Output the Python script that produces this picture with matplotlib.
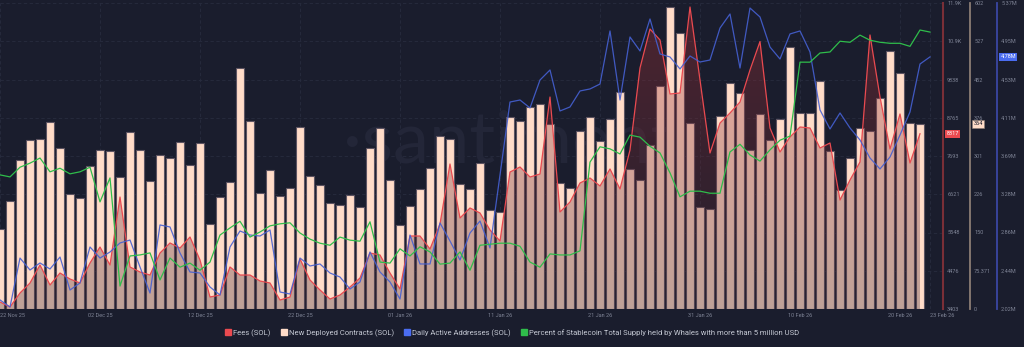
import numpy as np
import pandas as pd
import matplotlib
matplotlib.use('Agg')
import matplotlib.pyplot as plt
from matplotlib.lines import Line2D

plt.rcParams['font.family'] = ['Roboto', 'DejaVu Sans']

# ---------------- data ----------------
dates = pd.date_range('2025-11-22', '2026-02-23', freq='D')  # 94 days

contracts = [157, 213, 293, 332, 334, 367, 316, 226, 219, 281,
             312, 311, 259, 349, 312, 252, 302, 297, 328, 283,
             326, 167, 220, 250, 475, 370, 228, 273, 222, 238,
             358, 261, 243, 208, 204, 224, 201, 317, 356, 254,
             165, 203, 237, 277, 340, 335, 245, 237, 287, 195,
             191, 377, 369, 397, 403, 363, 247, 239, 350, 377,
             331, 374, 426, 275, 253, 323, 439, 595, 542, 365,
             201, 197, 379, 444, 424, 313, 384, 332, 374, 516,
             385, 386, 449, 311, 234, 297, 356, 350, 415, 507,
             464, 365, 364]

fees = [3599, 3459, 3852, 4132, 4637, 4076, 4412, 4244, 4132, 4693,
        5141, 4637, 6543, 4581, 4440, 4356, 4973, 5254, 5113, 5422,
        4777, 3739, 3796, 4581, 4356, 4356, 4188, 4132, 3655, 3739,
        4805, 4216, 3936, 3683, 3796, 4020, 4272, 4973, 4917, 4412,
        3964, 5450, 5450, 5085, 5786, 7469, 5955, 6235, 6095, 5618,
        5310, 7244, 7385, 7104, 7188, 9347, 6123, 6403, 6936, 7076,
        6852, 7329, 6768, 7861, 10161, 11254, 10946, 9432, 9460, 11871,
        9824, 7777, 8618, 8899, 9207, 10105, 10902, 8478, 7805, 8226,
        8506, 8478, 7917, 8058, 6459, 7020, 7525, 11086, 9347, 7889,
        8871, 7497, 8317]

active_m = [2.119, 2.042, 2.578, 2.447, 2.524, 2.458, 2.589, 2.228, 2.305, 2.699,
            2.578, 2.644, 2.743, 2.775, 2.480, 2.195, 2.940, 2.918, 2.633, 2.425,
            2.414, 2.261, 2.173, 2.699, 2.874, 2.830, 2.819, 2.885, 2.206, 2.184,
            2.578, 2.491, 2.513, 2.414, 2.370, 2.239, 2.316, 2.644, 2.425, 2.316,
            2.129, 2.830, 2.513, 2.513, 2.962, 2.764, 2.556, 2.852, 2.983, 2.688,
            3.487, 4.286, 4.308, 4.221, 4.527, 4.637, 4.188, 4.232, 4.407, 4.429,
            4.483, 5.064, 4.308, 4.998, 4.845, 5.195, 4.812, 4.779, 4.648, 4.790,
            4.724, 4.746, 5.096, 5.250, 4.658, 5.315, 5.217, 4.888, 4.757, 5.031,
            5.064, 4.834, 4.199, 3.991, 4.166, 4.002, 3.870, 3.673, 3.553, 3.684,
            3.925, 4.177, 4.702, 4.780]

whale_pct = [62.63, 62.59, 62.78, 62.86, 62.96, 62.69, 62.76, 62.65, 62.69, 62.78,
             62.10, 62.57, 60.45, 61.04, 61.06, 61.10, 60.57, 61.00, 60.82, 60.90,
             60.76, 60.92, 61.45, 61.59, 61.72, 61.41, 61.51, 61.63, 61.67, 61.69,
             61.49, 61.37, 61.29, 61.25, 61.41, 61.35, 61.33, 61.71, 60.92, 60.90,
             61.18, 61.04, 61.22, 61.12, 60.88, 60.90, 61.12, 60.76, 61.25, 61.27,
             61.29, 61.29, 61.23, 60.92, 60.82, 61.08, 61.06, 61.06, 61.14, 62.88,
             63.18, 63.14, 63.04, 63.41, 63.37, 63.19, 63.06, 62.67, 62.20, 62.31,
             62.31, 62.27, 62.27, 63.08, 63.23, 63.02, 62.90, 63.12, 63.31, 63.39,
             64.84, 64.84, 65.02, 65.04, 65.25, 65.23, 65.37, 65.27, 65.23, 65.21,
             65.21, 65.15, 65.47, 65.43]

date_tick_idx = [0, 10, 20, 30, 40, 50, 60, 70, 80, 90, 93]
fee_tick_labels = ['3403', '4476', '5548', '6621', '7693', '8765', '9838', '10.9K', '11.9K']
contract_tick_labels = ['0', '75.371', '150', '226', '301', '376', '452', '527', '602']
active_tick_labels = ['2.02M', '2.44M', '2.86M', '3.28M', '3.69M', '4.11M', '4.53M', '4.95M', '5.37M']

fee_lim = (3403, 11983)
contract_lim = (0, 602)
active_lim = (2.02, 5.37)
whale_lim = (60, 66)

# ---------------- style ----------------
BG = '#1a1d2d'
GRID = '#282c3e'
TICK = '#7f8496'
C_FEE = '#ea4a50'
C_BAR = '#ffdcc8'
C_BLUE = '#4560d2'
C_GREEN = '#2fbd4b'

fig = plt.figure(figsize=(10.24, 3.47), dpi=100, facecolor=BG)
W, H = 1024.0, 347.0
ax = fig.add_axes([0, 38 / H, 943 / W, 306 / H])
ax.set_facecolor(BG)

x = np.arange(len(dates))
xb = x[:len(contracts)]
xf = x[:len(fees)]
XMAX = 94.3

# bars
ax.bar(xb, contracts, width=0.74, color=C_BAR, edgecolor='#5d5462', linewidth=0.8, zorder=2)
ax.set_xlim(0, XMAX)
ax.set_ylim(*contract_lim)
ax.set_yticks(np.linspace(contract_lim[0], contract_lim[1], 9))
ax.set_yticklabels(contract_tick_labels)
ax.set_xticks(date_tick_idx)
ax.set_xticklabels([dates[i].strftime('%d %b %y') for i in date_tick_idx])
xtl = ax.get_xticklabels()
xtl[0].set_ha('left')
xtl[-1].set_ha('left')
ax.grid(True, color=GRID, linestyle=(0, (4, 3)), linewidth=0.6)
ax.set_axisbelow(True)
ax.tick_params(axis='x', length=0, labelsize=4, colors=TICK, pad=3)
for s in ['top', 'left', 'bottom']:
    ax.spines[s].set_visible(False)
ax.spines['right'].set_position(('axes', 970 / 943))
ax.spines['right'].set_color('#8c7d74')
ax.spines['right'].set_linewidth(1.3)

# watermark
ax.text(0.54, 0.545, '\u00b7santiment', transform=ax.transAxes, ha='center', va='center',
        fontsize=52, color='#232638', zorder=1, family=['Lato', 'DejaVu Sans'])

# fees axis
axf = ax.twinx()
poly = axf.fill_between(xf, fees, fee_lim[0], facecolor='none', edgecolor='none')
grad = np.zeros((256, 1, 4))
t = np.linspace(0, 1, 256)
top = np.array([190, 52, 55]) / 255.0
bot = np.array([55, 36, 48]) / 255.0
for i in range(3):
    grad[:, 0, i] = bot[i] + (top[i] - bot[i]) * t
grad[:, 0, 3] = 0.32
im = axf.imshow(grad, extent=[0, XMAX, fee_lim[0], fee_lim[1]], origin='lower',
                aspect='auto', zorder=1, interpolation='bilinear')
im.set_clip_path(poly.get_paths()[0], transform=axf.transData)
axf.plot(xf, fees, color=C_FEE, lw=0.9, zorder=3)
axf.set_xlim(0, XMAX)
axf.set_ylim(*fee_lim)
axf.set_yticks(np.linspace(fee_lim[0], fee_lim[1], 9))
axf.set_yticklabels(fee_tick_labels)
axf.tick_params(axis='y', length=0, labelsize=4, colors=TICK, pad=3)
for s in ['top', 'left', 'bottom']:
    axf.spines[s].set_visible(False)
axf.spines['right'].set_color('#7a2f37')
axf.spines['right'].set_linewidth(1.5)

# active addresses axis
axa = ax.twinx()
axa.plot(x[:len(active_m)], active_m, color=C_BLUE, lw=0.9, alpha=0.9, zorder=3)
axa.set_xlim(0, XMAX)
axa.set_ylim(*active_lim)
axa.set_yticks(np.linspace(active_lim[0], active_lim[1], 9))
axa.set_yticklabels(active_tick_labels)
axa.tick_params(axis='y', length=0, labelsize=4, colors=TICK, pad=3)
for s in ['top', 'left', 'bottom']:
    axa.spines[s].set_visible(False)
axa.spines['right'].set_position(('axes', 997 / 943))
axa.spines['right'].set_color('#3b47a3')
axa.spines['right'].set_linewidth(1.3)

# whale percent axis (hidden)
axg = ax.twinx()
axg.plot(x[:len(whale_pct)], whale_pct, color=C_GREEN, lw=0.9, zorder=3)
axg.set_xlim(0, XMAX)
axg.set_ylim(*whale_lim)
axg.set_yticks([])
for s in axg.spines.values():
    s.set_visible(False)

# twinx moves the host's ticks to the left: put them back on the right
ax.yaxis.tick_right()
ax.tick_params(axis='y', length=0, labelsize=4, colors=TICK, pad=3,
               left=False, labelleft=False, right=False, labelright=True)

# last value tags
axf.annotate(f'{fees[-1]}', xy=(1.0, fees[-1]), xycoords=('axes fraction', 'data'),
             xytext=(2.5, 0), textcoords='offset points', ha='left', va='center',
             fontsize=4, color='white', annotation_clip=False,
             bbox=dict(boxstyle='square,pad=0.25', fc=C_FEE, ec='none'))
ax.annotate(f'{contracts[-1]}', xy=(970 / 943, contracts[-1]), xycoords=('axes fraction', 'data'),
            xytext=(2.5, 0), textcoords='offset points', ha='left', va='center',
            fontsize=4, color='#1a1d2d', annotation_clip=False,
            bbox=dict(boxstyle='square,pad=0.25', fc=C_BAR, ec='#8c7d74', lw=0.4))
axa.annotate(f'{active_m[-1]:.2f}M', xy=(997 / 943, active_m[-1]), xycoords=('axes fraction', 'data'),
             xytext=(2.5, 0), textcoords='offset points', ha='left', va='center',
             fontsize=4, color='white', annotation_clip=False,
             bbox=dict(boxstyle='square,pad=0.25', fc='#4a6cf0', ec='none'))

# legend
handles = [Line2D([], [], marker='s', ls='none', color=C_FEE, markersize=4),
           Line2D([], [], marker='s', ls='none', color=C_BAR, markersize=4),
           Line2D([], [], marker='s', ls='none', color='#4a6cf0', markersize=4),
           Line2D([], [], marker='s', ls='none', color=C_GREEN, markersize=4)]
labels = ['Fees (SOL)', 'New Deployed Contracts (SOL)', 'Daily Active Addresses (SOL)',
          'Percent of Stablecoin Total Supply held by Whales with more than 5 million USD']
fig.legend(handles, labels, loc='center', bbox_to_anchor=(0.5, 1 - 333 / H), ncol=4,
           frameon=False, fontsize=5.5, labelcolor='#c5c9d4', handletextpad=0.2,
           columnspacing=1.3, handlelength=0.9, borderpad=0)

fig.savefig('out.png', dpi=100, facecolor=BG)
